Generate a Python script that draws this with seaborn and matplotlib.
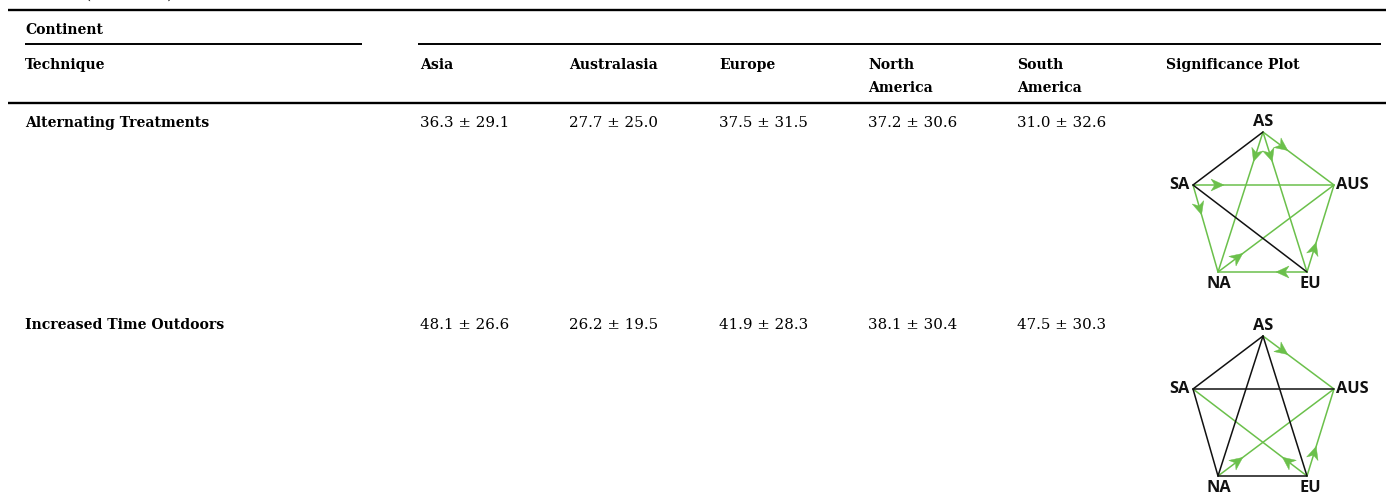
import numpy as np
import pandas as pd
import matplotlib
matplotlib.use("Agg")
import matplotlib.pyplot as plt
from matplotlib.patches import Polygon
import seaborn as sns

# ---------------- data ----------------
continents = ["Asia", "Australasia", "Europe", "North\nAmerica", "South\nAmerica"]
techniques = ["Alternating Treatments", "Increased Time Outdoors"]
alt_means = [36.3, 27.7, 37.5, 37.2, 31.0]
alt_sds = [29.1, 25.0, 31.5, 30.6, 32.6]
out_means = [48.1, 26.2, 41.9, 38.1, 47.5]
out_sds = [26.6, 19.5, 28.3, 30.4, 30.3]

node_names = ["AS", "AUS", "EU", "NA", "SA"]
# significant (directed, green) and non-significant (black) pairs
alt_directed = [("AS", "AUS"), ("AS", "NA"), ("AS", "EU"), ("SA", "AUS"),
                ("SA", "NA"), ("NA", "AUS"), ("EU", "NA"), ("EU", "AUS")]
alt_undirected = [("AS", "SA"), ("SA", "EU")]
out_directed = [("AS", "AUS"), ("EU", "SA"), ("NA", "AUS"), ("EU", "AUS")]
out_undirected = [("AS", "SA"), ("AS", "NA"), ("AS", "EU"), ("SA", "AUS"),
                  ("SA", "NA"), ("NA", "EU")]

# ---------------- layout ----------------
W, H = 1386, 501
GREEN = "#6BC04B"
sns.set_theme(style="white")
plt.rcParams["font.family"] = ["DejaVu Serif"]

fig = plt.figure(figsize=(W / 100, H / 100), dpi=100)
ax = fig.add_axes([0, 0, 1, 1])
ax.set_xlim(0, W)
ax.set_ylim(H, 0)
ax.axis("off")

FS = 10.8
FSB = 10.1
TXT = "#000000"
col_x = [420, 569, 719, 868, 1017]
sig_x = 1166

# partially visible caption at top
ax.text(25, -1.5, "Table 4 (continued)", fontsize=FS, va="baseline", ha="left", color=TXT)

# rules
ax.plot([8, W], [10, 10], color="black", lw=1.7, solid_capstyle="butt")
ax.plot([25, 362], [44, 44], color="black", lw=1.4, solid_capstyle="butt")
ax.plot([418, 1381], [44, 44], color="black", lw=1.4, solid_capstyle="butt")
ax.plot([8, W], [102.5, 102.5], color="black", lw=1.7, solid_capstyle="butt")

# headers
ax.text(25, 34, "Continent", fontsize=FSB, fontweight="bold", va="baseline", color=TXT)
ax.text(25, 69, "Technique", fontsize=FSB, fontweight="bold", va="baseline", color=TXT)
for x, name in zip(col_x, continents):
    parts = name.split("\n")
    for j, p in enumerate(parts):
        ax.text(x, 69 + 23 * j, p, fontsize=FSB, fontweight="bold", va="baseline", color=TXT)
ax.text(sig_x, 69, "Significance Plot", fontsize=FSB, fontweight="bold", va="baseline", color=TXT)

row_base = [127, 329]
for tech, means, sds, yb in zip(techniques, [alt_means, out_means], [alt_sds, out_sds], row_base):
    ax.text(25, yb, tech, fontsize=FSB, fontweight="bold", va="baseline", color=TXT)
    for x, m, s in zip(col_x, means, sds):
        ax.text(x, yb, f"{m:.1f} \u00b1 {s:.1f}", fontsize=FS, va="baseline", color=TXT)

# significance graphs
node_pos = {"AS": (1263, 132), "SA": (1193, 185), "AUS": (1334, 185),
            "NA": (1218, 272), "EU": (1307, 272)}
label_pos = {"AS": (1263, 122, "center"), "SA": (1190, 185, "right"),
             "AUS": (1336, 185, "left"), "NA": (1218.5, 284, "center"),
             "EU": (1310, 284, "center")}
row_dy = [0, 204]

rows = []
for r, (directed, undirected) in enumerate([(alt_directed, alt_undirected),
                                             (out_directed, out_undirected)]):
    for k, (u, v) in enumerate(directed + undirected):
        kind = "sig" if (u, v) in directed else "ns"
        for n in (u, v):
            x, y = node_pos[n]
            rows.append(dict(edge=f"{r}-{k}", kind=kind, x=x, y=y + row_dy[r]))
edges_df = pd.DataFrame(rows)

sns.lineplot(data=edges_df[edges_df.kind == "sig"], x="x", y="y", units="edge",
             estimator=None, sort=False, color=GREEN, lw=1.1, ax=ax, legend=False)
sns.lineplot(data=edges_df[edges_df.kind == "ns"], x="x", y="y", units="edge",
             estimator=None, sort=False, color="#111111", lw=1.1, ax=ax, legend=False)

def arrowhead(p0, p1, dist=31, length=13, half=6.0, notch=3.8):
    p0 = np.asarray(p0, float); p1 = np.asarray(p1, float)
    d = (p1 - p0) / np.linalg.norm(p1 - p0)
    n = np.array([-d[1], d[0]])
    tip = p0 + d * dist
    back = tip - d * length
    pts = [tip, back + n * half, back + d * notch, back - n * half]
    ax.add_patch(Polygon(pts, closed=True, facecolor=GREEN, edgecolor=GREEN, lw=0.3, zorder=5))

for r, directed in enumerate([alt_directed, out_directed]):
    for u, v in directed:
        pu = (node_pos[u][0], node_pos[u][1] + row_dy[r])
        pv = (node_pos[v][0], node_pos[v][1] + row_dy[r])
        arrowhead(pu, pv)
    for n in node_names:
        lx, ly, ha = label_pos[n]
        ax.text(lx, ly + row_dy[r], n, fontsize=11.8, fontweight="bold", ha=ha, va="center",
                family=["Open Sans", "DejaVu Sans"], color="#111")

ax.set_xlim(0, W)
ax.set_ylim(H, 0)
ax.axis("off")
fig.savefig("out.png", dpi=100)
